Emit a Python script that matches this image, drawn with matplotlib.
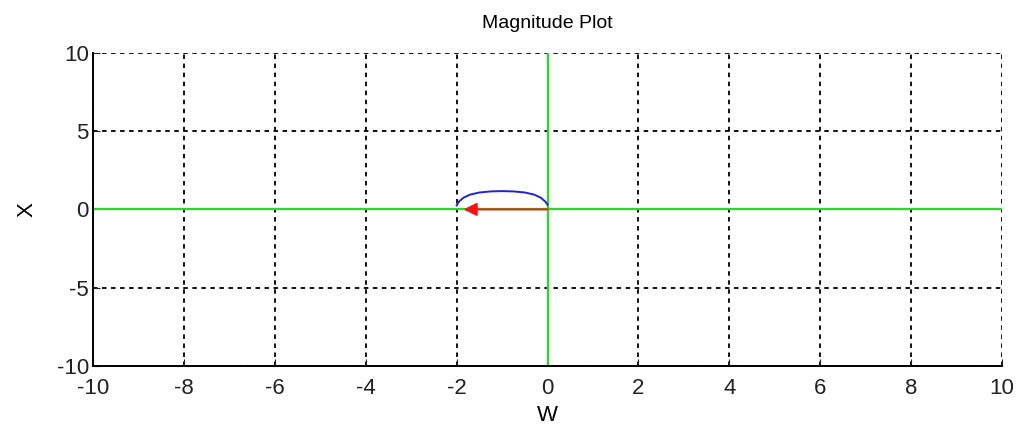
import numpy as np
import matplotlib.pyplot as plt

# Magnitude plot (MATLAB-style phasor sketch)

plt.rcParams['font.family'] = ['Liberation Sans', 'DejaVu Sans']
plt.rcParams['axes.unicode_minus'] = False

ticks = [-10, -8, -6, -4, -2, 0, 2, 4, 6, 8, 10]
yticks = [-10, -5, 0, 5, 10]

# blue arc
arc_w = [-2.0, -1.95, -1.85, -1.7, -1.5, -1.25, -1.0, -0.75, -0.5, -0.3, -0.15, -0.05, 0.0]
arc_x = [0.25, 0.5, 0.75, 0.95, 1.08, 1.15, 1.17, 1.15, 1.08, 0.95, 0.75, 0.5, 0.3]

# red arrow: start and tip
arrow_start = (0.0, 0.0)
arrow_end = (-1.85, 0.0)

fig = plt.figure(figsize=(10.18, 4.30), dpi=100)
ax = fig.add_axes([0.0914, 0.149, 0.893, 0.728])

ax.axhline(0, color='#22dd22', linewidth=1.6, zorder=2)
ax.axvline(0, color='#22dd22', linewidth=1.6, zorder=2)

ax.plot(arc_w, arc_x, color='#2222dd', linewidth=1.4, zorder=3)

ax.annotate('', xy=arrow_end, xytext=arrow_start,
            arrowprops=dict(arrowstyle='-|>', color='#ff1111', lw=1.4,
                            mutation_scale=20, shrinkA=0, shrinkB=0),
            zorder=4)

ax.set_xlim(-10, 10)
ax.set_ylim(-10, 10)
ax.set_xticks(ticks)
ax.set_yticks(yticks)
ax.grid(True, color='black', linestyle=(0, (2.5, 2.5)), linewidth=1.3)
ax.tick_params(direction='in', length=5, labelsize=16, colors='#222222')
ax.tick_params(axis='x', pad=9)
ax.tick_params(axis='y', pad=3)
for s in ['top', 'right']:
    ax.spines[s].set_visible(False)
for s in ['left', 'bottom']:
    ax.spines[s].set_linewidth(1.4)

ax.set_title('Magnitude Plot', fontsize=14, pad=18)
ax.set_xlabel('W', fontsize=16, labelpad=4)
ax.set_ylabel('X', fontsize=16, labelpad=14)

fig.savefig('out.png', dpi=100)
